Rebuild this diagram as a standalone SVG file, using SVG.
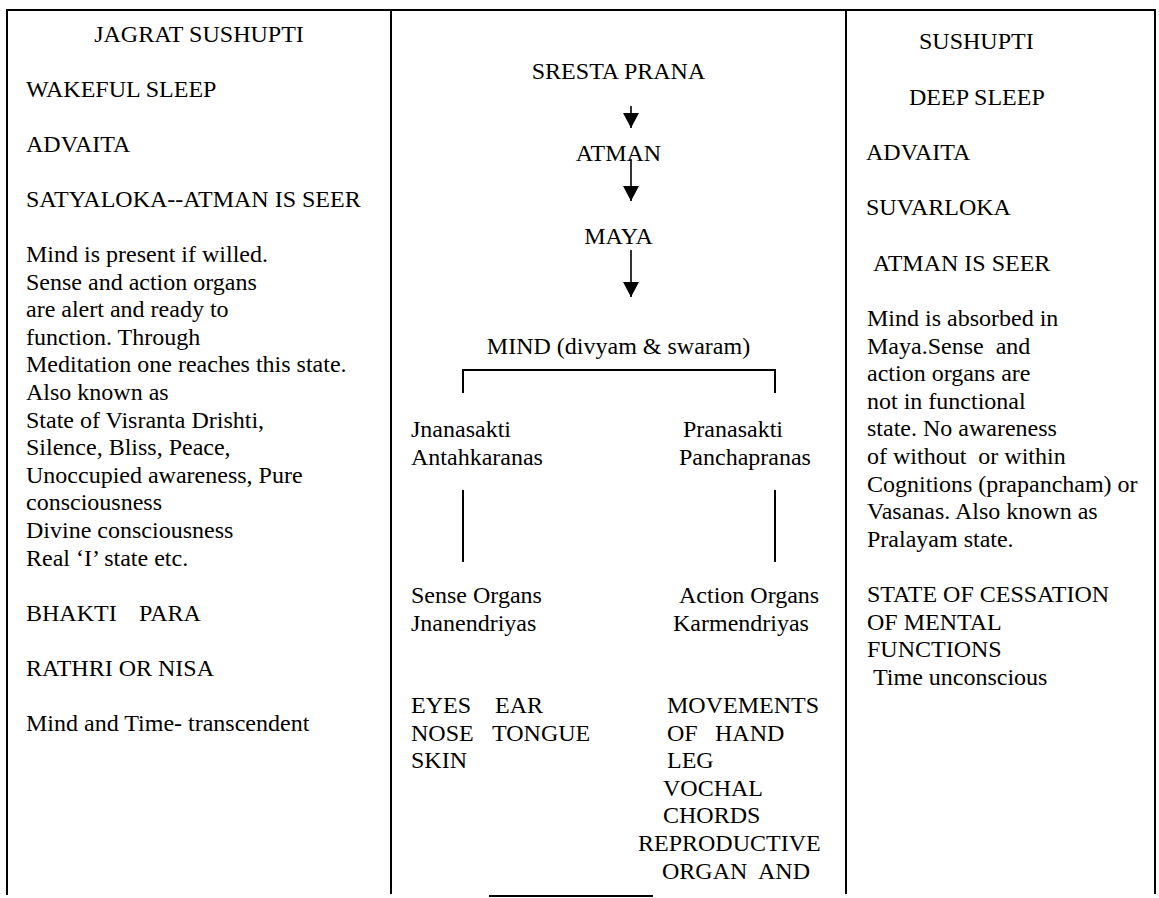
<svg xmlns="http://www.w3.org/2000/svg" width="1159" height="898" viewBox="0 0 1159 898">
<style>
text{font-family:"Liberation Serif","Times New Roman",serif;font-size:24px;fill:#000}
.mid{text-anchor:middle}
.rule{stroke:#000;stroke-width:2;fill:none}
.conn{stroke:#000;stroke-width:1.6;fill:none}
.arr{stroke:#000;stroke-width:1.6;fill:none;marker-end:url(#ah)}
</style>
<defs>
<marker id="ah" viewBox="0 0 15 16" refX="15" refY="8" markerWidth="15" markerHeight="16" markerUnits="userSpaceOnUse" orient="auto">
<path d="M0,0 L15,8 L0,16 z" fill="#000"/>
</marker>
</defs>
<rect width="1159" height="898" fill="#fff"/>
<g id="table">
<line class="rule" x1="6" y1="10" x2="1156" y2="10"/>
<line class="rule" x1="7" y1="10" x2="7" y2="895"/>
<line class="rule" x1="391" y1="10" x2="391" y2="894"/>
<line class="rule" x1="846" y1="10" x2="846" y2="894"/>
<line class="rule" x1="1155" y1="10" x2="1155" y2="894"/>
<line class="rule" x1="489" y1="896" x2="653" y2="896"/>
</g>
<g id="col-left">
<text x="199" y="42" class="mid">JAGRAT SUSHUPTI</text>
<text x="26" y="97">WAKEFUL SLEEP</text>
<text x="26" y="152">ADVAITA</text>
<text x="26" y="207">SATYALOKA--ATMAN IS SEER</text>
<text x="26" y="262">Mind is present if willed.</text>
<text x="26" y="289.6">Sense and action organs</text>
<text x="26" y="317.2">are alert and ready to</text>
<text x="26" y="344.8">function. Through</text>
<text x="26" y="372.4">Meditation one reaches this state.</text>
<text x="26" y="400">Also known as</text>
<text x="26" y="427.6">State of Visranta Drishti,</text>
<text x="26" y="455.2">Silence, Bliss, Peace,</text>
<text x="26" y="482.8">Unoccupied awareness, Pure</text>
<text x="26" y="510.4">consciousness</text>
<text x="26" y="538">Divine consciousness</text>
<text x="26" y="565.6">Real ‘I’ state etc.</text>
<text x="26" y="621"><tspan>BHAKTI</tspan><tspan x="139">PARA</tspan></text>
<text x="26" y="676">RATHRI OR NISA</text>
<text x="26" y="731">Mind and Time- transcendent</text>
</g>
<g id="node-sresta"><text x="618.5" y="79" class="mid">SRESTA PRANA</text></g>
<g id="node-atman"><text x="618.5" y="161" class="mid">ATMAN</text></g>
<g id="node-maya"><text x="618.5" y="244" class="mid">MAYA</text></g>
<g id="node-mind"><text x="618.5" y="354" class="mid">MIND (divyam &amp; swaram)</text></g>
<g id="node-jnanasakti">
<text x="411" y="437">Jnanasakti</text>
<text x="411" y="464.6">Antahkaranas</text>
</g>
<g id="node-pranasakti">
<text x="683" y="437">Pranasakti</text>
<text x="679" y="464.6">Panchapranas</text>
</g>
<g id="node-sense">
<text x="411" y="603">Sense Organs</text>
<text x="411" y="630.6">Jnanendriyas</text>
</g>
<g id="node-action">
<text x="679" y="603">Action Organs</text>
<text x="673" y="630.6">Karmendriyas</text>
</g>
<g id="node-sense-list">
<text x="411" y="713"><tspan>EYES</tspan><tspan x="495">EAR</tspan></text>
<text x="411" y="740.6"><tspan>NOSE</tspan><tspan x="492">TONGUE</tspan></text>
<text x="411" y="768.2">SKIN</text>
</g>
<g id="node-action-list">
<text x="667" y="713">MOVEMENTS</text>
<text x="667" y="740.6"><tspan>OF</tspan><tspan x="715">HAND</tspan></text>
<text x="667" y="768.2">LEG</text>
<text x="663" y="795.8">VOCHAL</text>
<text x="663" y="823.4">CHORDS</text>
<text x="638" y="851">REPRODUCTIVE</text>
<text x="662" y="878.6"><tspan>ORGAN</tspan><tspan x="758">AND</tspan></text>
</g>
<g id="col-right">
<text x="919" y="49">SUSHUPTI</text>
<text x="909" y="105">DEEP SLEEP</text>
<text x="866" y="160">ADVAITA</text>
<text x="866" y="215">SUVARLOKA</text>
<text x="873" y="271">ATMAN IS SEER</text>
<text x="867" y="326">Mind is absorbed in</text>
<text x="867" y="353.6" xml:space="preserve">Maya.Sense  and</text>
<text x="867" y="381.2">action organs are</text>
<text x="867" y="408.8">not in functional</text>
<text x="867" y="436.4">state. No awareness</text>
<text x="867" y="464" xml:space="preserve">of without  or within</text>
<text x="867" y="491.6">Cognitions (prapancham) or</text>
<text x="867" y="519.2">Vasanas. Also known as</text>
<text x="867" y="546.8">Pralayam state.</text>
<text x="867" y="602">STATE OF CESSATION</text>
<text x="867" y="629.6">OF MENTAL</text>
<text x="867" y="657.2">FUNCTIONS</text>
<text x="873" y="684.8">Time unconscious</text>
</g>
<g id="connectors">
<line class="arr" x1="631" y1="106" x2="631" y2="128"/>
<line class="arr" x1="631" y1="159" x2="631" y2="201"/>
<line class="arr" x1="631" y1="250" x2="631" y2="297"/>
<path class="rule" d="M463,393 V370 H775 V393"/>
<line class="rule" x1="463" y1="490" x2="463" y2="562"/>
<line class="rule" x1="775" y1="490" x2="775" y2="562"/>
</g>
</svg>
